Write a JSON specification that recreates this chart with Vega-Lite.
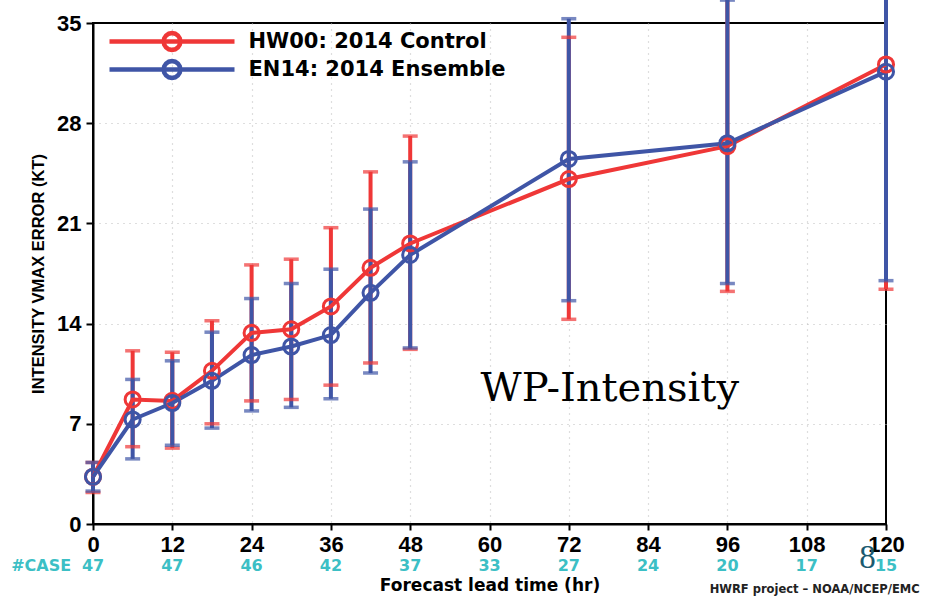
{
  "$schema": "https://vega.github.io/schema/vega-lite/v6.json",
  "autosize": {"type": "none"},
  "width": 793,
  "height": 501,
  "padding": {"left": 93, "top": 23, "right": 44, "bottom": 74},
  "background": "white",
  "config": {
    "view": {"stroke": "black", "strokeWidth": 2},
    "axis": {"domainColor": "black", "domainWidth": 2, "tickColor": "black", "tickWidth": 2,
             "gridDash": [1, 5], "gridWidth": 1.2,
             "labelFont": "Liberation Sans", "labelFontWeight": "bold", "labelFontSize": 22, "labelColor": "black",
             "titleFont": "Liberation Sans", "titleFontWeight": "bold", "titleColor": "black"}
  },
  "datasets": {
    "err": [
      {"series": "HW00: 2014 Control", "lead": 0, "mean": 3.3, "lo": 2.2, "hi": 4.3},
      {"series": "HW00: 2014 Control", "lead": 6, "mean": 8.7, "lo": 5.4, "hi": 12.1},
      {"series": "HW00: 2014 Control", "lead": 12, "mean": 8.6, "lo": 5.3, "hi": 12.0},
      {"series": "HW00: 2014 Control", "lead": 18, "mean": 10.7, "lo": 7.0, "hi": 14.2},
      {"series": "HW00: 2014 Control", "lead": 24, "mean": 13.35, "lo": 8.6, "hi": 18.1},
      {"series": "HW00: 2014 Control", "lead": 30, "mean": 13.6, "lo": 8.7, "hi": 18.5},
      {"series": "HW00: 2014 Control", "lead": 36, "mean": 15.2, "lo": 9.7, "hi": 20.7},
      {"series": "HW00: 2014 Control", "lead": 42, "mean": 17.9, "lo": 11.25, "hi": 24.6},
      {"series": "HW00: 2014 Control", "lead": 48, "mean": 19.6, "lo": 12.2, "hi": 27.1},
      {"series": "HW00: 2014 Control", "lead": 72, "mean": 24.1, "lo": 14.3, "hi": 34.0},
      {"series": "HW00: 2014 Control", "lead": 96, "mean": 26.4, "lo": 16.25, "hi": 36.8},
      {"series": "HW00: 2014 Control", "lead": 120, "mean": 32.1, "lo": 16.4, "hi": 38.5},
      {"series": "EN14: 2014 Ensemble", "lead": 0, "mean": 3.3, "lo": 2.3, "hi": 4.3},
      {"series": "EN14: 2014 Ensemble", "lead": 6, "mean": 7.3, "lo": 4.55, "hi": 10.1},
      {"series": "EN14: 2014 Ensemble", "lead": 12, "mean": 8.45, "lo": 5.5, "hi": 11.4},
      {"series": "EN14: 2014 Ensemble", "lead": 18, "mean": 10.0, "lo": 6.7, "hi": 13.4},
      {"series": "EN14: 2014 Ensemble", "lead": 24, "mean": 11.8, "lo": 7.9, "hi": 15.75},
      {"series": "EN14: 2014 Ensemble", "lead": 30, "mean": 12.4, "lo": 8.15, "hi": 16.8},
      {"series": "EN14: 2014 Ensemble", "lead": 36, "mean": 13.2, "lo": 8.75, "hi": 17.8},
      {"series": "EN14: 2014 Ensemble", "lead": 42, "mean": 16.15, "lo": 10.55, "hi": 22.0},
      {"series": "EN14: 2014 Ensemble", "lead": 48, "mean": 18.8, "lo": 12.3, "hi": 25.3},
      {"series": "EN14: 2014 Ensemble", "lead": 72, "mean": 25.5, "lo": 15.6, "hi": 35.3},
      {"series": "EN14: 2014 Ensemble", "lead": 96, "mean": 26.6, "lo": 16.8, "hi": 36.6},
      {"series": "EN14: 2014 Ensemble", "lead": 120, "mean": 31.6, "lo": 17.0, "hi": 38.5}
    ],
    "cases": [
      {"lead": 0, "n": "47"}, {"lead": 12, "n": "47"}, {"lead": 24, "n": "46"}, {"lead": 36, "n": "42"},
      {"lead": 48, "n": "37"}, {"lead": 60, "n": "33"}, {"lead": 72, "n": "27"}, {"lead": 84, "n": "24"},
      {"lead": 96, "n": "20"}, {"lead": 108, "n": "17"}, {"lead": 120, "n": "15"}
    ],
    "notes": [
      {"label": "#CASE", "x": -3.3, "y": -2.95, "kind": "case"},
      {"label": "WP-Intensity", "x": 78.2, "y": 9.4, "kind": "big"},
      {"label": "8", "x": 117.2, "y": -2.4, "kind": "page"},
      {"label": "HWRF project \u2013 NOAA/NCEP/EMC", "x": 125.1, "y": -4.6, "kind": "foot"}
    ]
  },
  "layer": [
    {
      "data": {"name": "err"},
      "encoding": {
        "x": {"field": "lead", "type": "quantitative",
              "scale": {"domain": [0, 120], "nice": false, "zero": false},
              "axis": {"values": [0,12,24,36,48,60,72,84,96,108,120], "tickSize": 6, "labelPadding": 4,
                       "gridColor": {"condition": {"test": "datum.value === 120 || datum.value === 0", "value": "transparent"}, "value": "#bdbdbd"},
                       "title": "Forecast lead time (hr)", "titleFont": "DejaVu Sans", "titleFontSize": 17, "titlePadding": 22,
                       "labelFlush": false}},
        "y": {"field": "mean", "type": "quantitative",
              "scale": {"domain": [0, 35], "nice": false, "zero": false},
              "axis": {"values": [0,7,14,21,28,35], "tickSize": 7, "labelPadding": 5,
                       "gridColor": {"condition": {"test": "datum.value === 35 || datum.value === 0", "value": "transparent"}, "value": "#bdbdbd"},
                       "title": "INTENSITY VMAX ERROR (KT)", "titleFontSize": 16.5, "titlePadding": 10}}
      },
      "layer": [
        {"mark": {"type": "rule", "strokeWidth": 4, "clip": false},
         "encoding": {"y": {"field": "lo", "type": "quantitative"}, "y2": {"field": "hi"},
                      "stroke": {"field": "series", "type": "nominal",
                                 "scale": {"domain": ["HW00: 2014 Control", "EN14: 2014 Ensemble"], "range": ["#ef3737", "#3f55a6"]}}}},
        {"mark": {"type": "tick", "orient": "horizontal", "size": 15, "thickness": 3.5, "clip": false},
         "encoding": {"y": {"field": "hi", "type": "quantitative"},
                      "color": {"field": "series", "type": "nominal",
                                "scale": {"domain": ["HW00: 2014 Control", "EN14: 2014 Ensemble"], "range": ["#ef3737", "#3f55a6"]},
                                "legend": null}}},
        {"mark": {"type": "tick", "orient": "horizontal", "size": 15, "thickness": 3.5, "clip": false},
         "encoding": {"y": {"field": "lo", "type": "quantitative"},
                      "color": {"field": "series", "type": "nominal", "legend": null}}},
        {"mark": {"type": "line", "strokeWidth": 4, "clip": false},
         "encoding": {"stroke": {"field": "series", "type": "nominal"}}},
        {"mark": {"type": "point", "shape": "circle", "filled": false, "size": 227, "strokeWidth": 3, "opacity": 1, "clip": false},
         "encoding": {"stroke": {"field": "series", "type": "nominal",
                                 "legend": {"orient": "none", "legendX": 68.5, "legendY": 8, "title": null, "padding": 0,
                                            "symbolType": "M-12.5,0L12.5,0M1.68,0L1.552,0.643L1.188,1.188L0.643,1.552L0,1.68L-0.643,1.552L-1.188,1.188L-1.552,0.643L-1.68,0L-1.552,-0.643L-1.188,-1.188L-0.643,-1.552L0,-1.68L0.643,-1.552L1.188,-1.188L1.552,-0.643L1.68,0L1.552,-0.643L1.188,-1.188L0.643,-1.552L0,-1.68L-0.643,-1.552L-1.188,-1.188L-1.552,-0.643L-1.68,0L-1.552,0.643L-1.188,1.188L-0.643,1.552L0,1.68L0.643,1.552L1.188,1.188L1.552,0.643L1.68,0",
                                            "symbolSize": 100, "symbolStrokeWidth": 4.5, "symbolFillColor": "transparent",
                                            "labelFont": "DejaVu Sans", "labelFontWeight": "bold", "labelFontSize": 21, "labelLimit": 0,
                                            "labelOffset": 66, "rowPadding": -12,
                                            "encode": {"labels": {"update": {"fill": {"signal": "datum.label === 'HW00: 2014 Control' ? '#ef3737' : '#3f55a6'"}}},
                                                       "symbols": {"update": {"fill": {"value": "transparent"}, "fillOpacity": {"value": 0}}}}}}}}
      ]
    },
    {
      "data": {"name": "cases"},
      "mark": {"type": "text", "font": "DejaVu Sans", "fontWeight": "bold", "fontSize": 16, "color": "#3cbfc5", "baseline": "middle", "align": "center", "clip": false},
      "encoding": {
        "x": {"field": "lead", "type": "quantitative"},
        "y": {"datum": -2.95, "type": "quantitative"},
        "text": {"field": "n"}
      }
    },
    {
      "data": {"name": "notes"},
      "transform": [{"filter": "datum.kind === 'case'"}],
      "mark": {"type": "text", "font": "DejaVu Sans", "fontWeight": "bold", "fontSize": 16, "color": "#3cbfc5", "baseline": "middle", "align": "right", "clip": false},
      "encoding": {"x": {"field": "x", "type": "quantitative"}, "y": {"field": "y", "type": "quantitative"}, "text": {"field": "label"}}
    },
    {
      "data": {"name": "notes"},
      "transform": [{"filter": "datum.kind === 'big'"}],
      "mark": {"type": "text", "font": "DejaVu Serif", "fontSize": 40, "color": "black", "baseline": "middle", "align": "center"},
      "encoding": {"x": {"field": "x", "type": "quantitative"}, "y": {"field": "y", "type": "quantitative"}, "text": {"field": "label"}}
    },
    {
      "data": {"name": "notes"},
      "transform": [{"filter": "datum.kind === 'page'"}],
      "mark": {"type": "text", "font": "Liberation Serif", "fontSize": 33, "color": "#1b5a70", "baseline": "middle", "align": "center", "clip": false},
      "encoding": {"x": {"field": "x", "type": "quantitative"}, "y": {"field": "y", "type": "quantitative"}, "text": {"field": "label"}}
    },
    {
      "data": {"name": "notes"},
      "transform": [{"filter": "datum.kind === 'foot'"}],
      "mark": {"type": "text", "font": "DejaVu Sans", "fontWeight": "bold", "fontSize": 11.5, "color": "#222222", "baseline": "middle", "align": "right", "clip": false},
      "encoding": {"x": {"field": "x", "type": "quantitative"}, "y": {"field": "y", "type": "quantitative"}, "text": {"field": "label"}}
    }
  ]
}
